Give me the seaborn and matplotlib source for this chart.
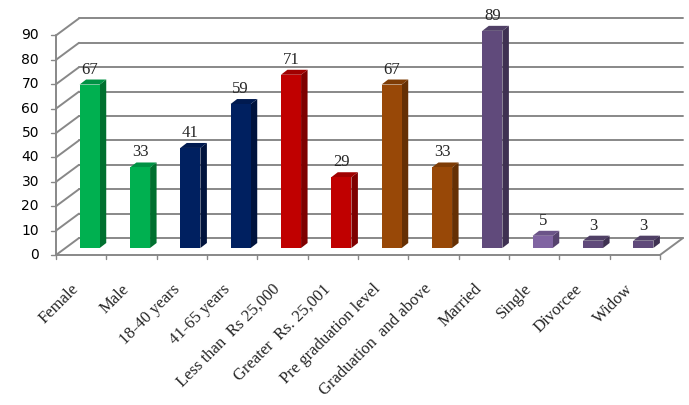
import numpy as np
import matplotlib
matplotlib.use('Agg')
import matplotlib.pyplot as plt
import matplotlib.transforms as mtransforms
from matplotlib.patches import Polygon
import seaborn as sns

# данные с картинки
categories = ['Female', 'Male', '18-40 years', '41-65 years', 'Less than  Rs 25,000',
              'Greater  Rs. 25,001', 'Pre graduation level', 'Graduation  and above',
              'Married', 'Single', 'Divorcee', 'Widow']
values = [67, 33, 41, 59, 71, 29, 67, 33, 89, 5, 3, 3]
face_colors = ['#00B050', '#00B050', '#002060', '#002060', '#C00000', '#C00000',
               '#984807', '#984807', '#604A7B', '#8064A2', '#604A7B', '#604A7B']
side_colors = ['#00702F', '#00702F', '#00133D', '#00133D', '#7E0000', '#7E0000',
               '#653004', '#653004', '#3F3152', '#56436E', '#3F3152', '#3F3152']
top_colors = ['#009244', '#009244', '#001A50', '#001A50', '#A00000', '#A00000',
              '#7E3C05', '#7E3C05', '#504066', '#6B5488', '#504066', '#504066']
yticks = list(range(0, 100, 10))

sns.set_style('white')
fig = plt.figure(figsize=(6.89, 4.05), dpi=100)
# оси = плоскость, где стоят столбики
ax = fig.add_axes([64.5 / 689, 157 / 405, 604 / 689, 219.6 / 405])

sns.barplot(x=categories, y=values, hue=categories, palette=face_colors, saturation=1,
            width=0.4, linewidth=0, legend=False, ax=ax, zorder=3)
ax.set_xlim(-0.5, 11.5)
ax.set_ylim(0, 90)
ax.axis('off')

ident = mtransforms.IdentityTransform()
front = mtransforms.offset_copy(ax.transData, fig=fig, x=-8.5, y=-7, units='dots')
back = mtransforms.offset_copy(ax.transData, fig=fig, x=14.5, y=10, units='dots')
grid_c = '#888888'

def line_disp(p1, p2, **kw):
    ax.plot([p1[0], p2[0]], [p1[1], p2[1]], transform=ident, clip_on=False, **kw)

# сетка: задняя стенка + левая стенка
for v in yticks:
    pf = front.transform((-0.5, v))
    pb = back.transform((-0.5, v))
    pe = back.transform((11.5, v))
    line_disp(pf, pb, color=grid_c, lw=1.4, zorder=1)
    line_disp(pb, pe, color=grid_c, lw=1.4, zorder=1)
    # засечка и подпись
    line_disp(pf, (pf[0] - 5, pf[1]), color=grid_c, lw=1.0, zorder=1)
    ax.text(pf[0] - 17, pf[1], str(v), transform=ident, ha='right', va='center',
            fontsize=10, family='DejaVu Sans', color='black')

# пол
line_disp(front.transform((-0.5, 0)), front.transform((11.5, 0)), color=grid_c, lw=1.4, zorder=1)
line_disp(front.transform((11.5, 0)), back.transform((11.5, 0)), color=grid_c, lw=1.4, zorder=1)
line_disp(front.transform((-0.5, 0)), front.transform((-0.5, 90)), color=grid_c, lw=1.4, zorder=1)
for k in range(13):
    p = front.transform((k - 0.5, 0))
    line_disp(p, (p[0], p[1] - 4), color=grid_c, lw=1.0, zorder=1)

# объём столбиков
dx, dy = 6.5, 5
for i, patch in enumerate(ax.patches):
    x0 = patch.get_x()
    w = patch.get_width()
    h = patch.get_height()
    bl = ax.transData.transform((x0 + w, 0))
    tr = ax.transData.transform((x0 + w, h))
    tl = ax.transData.transform((x0, h))
    side = Polygon([bl, tr, (tr[0] + dx, tr[1] + dy), (bl[0] + dx, bl[1] + dy)],
                   closed=True, transform=ident, facecolor=side_colors[i],
                   edgecolor='none', zorder=2, clip_on=False)
    top = Polygon([tl, tr, (tr[0] + dx, tr[1] + dy), (tl[0] + dx, tl[1] + dy)],
                  closed=True, transform=ident, facecolor=top_colors[i],
                  edgecolor='none', zorder=2, clip_on=False)
    ax.add_patch(side)
    ax.add_patch(top)
    ax.text(x0 + w / 2, h, str(values[i]),
            transform=mtransforms.offset_copy(ax.transData, fig=fig, x=0, y=11, units='dots'),
            ha='center', va='baseline', fontsize=12, family='Liberation Serif', zorder=5)

# подписи категорий
for i, name in enumerate(categories):
    p = front.transform((i, 0))
    ax.text(p[0] + 1, p[1] - 26, name, transform=ident, rotation=45,
            ha='right', va='top', fontsize=12, family='Liberation Serif')

fig.savefig('out.png', dpi=100)
